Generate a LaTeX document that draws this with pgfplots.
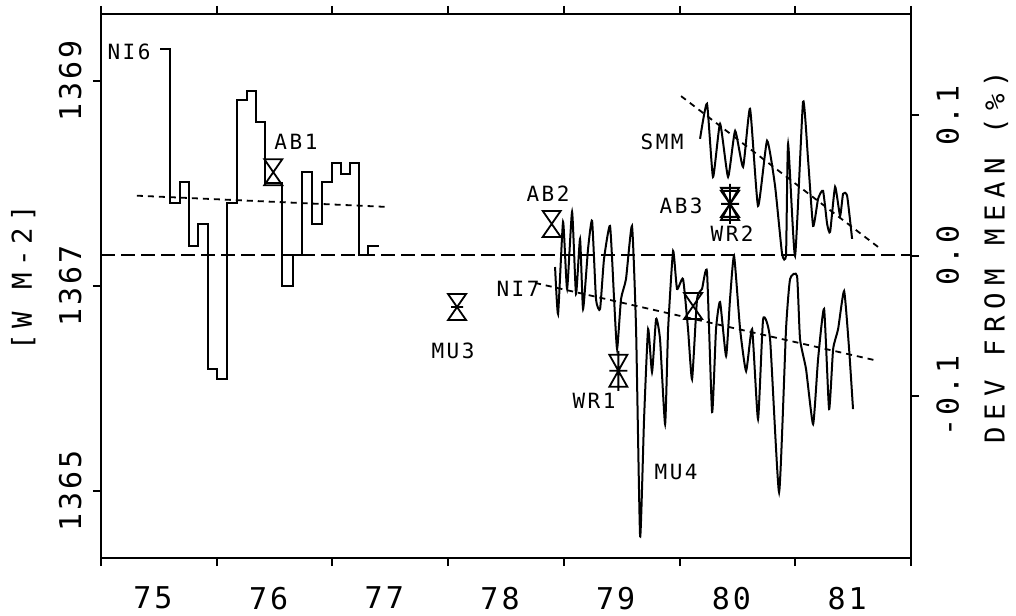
\documentclass[border=0pt]{standalone}
\usepackage{fontspec}
\usepackage{pgfplots}
\pgfplotsset{compat=1.18}
\newfontfamily\tickfont{DejaVu Sans Mono}[LetterSpace=10]
\newfontfamily\labfont{DejaVu Sans Mono}[LetterSpace=12]
\newfontfamily\axfontL{DejaVu Sans Mono}[LetterSpace=22]
\newfontfamily\axfontR{DejaVu Sans Mono}[LetterSpace=26]
\newcommand\TF{\tickfont\fontsize{15}{15}\selectfont}
\newcommand\LF{\labfont\fontsize{10.5}{10.5}\selectfont}

\pgfdeclareplotmark{hg}{%
  \pgfpathmoveto{\pgfqpoint{-4.5pt}{6.5pt}}%
  \pgfpathlineto{\pgfqpoint{4.5pt}{6.5pt}}%
  \pgfpathlineto{\pgfqpoint{-4.5pt}{-6.5pt}}%
  \pgfpathlineto{\pgfqpoint{4.5pt}{-6.5pt}}%
  \pgfpathclose
  \pgfusepathqstroke}
\pgfdeclareplotmark{hgb}{%
  \pgfpathmoveto{\pgfqpoint{-4.5pt}{6.5pt}}%
  \pgfpathlineto{\pgfqpoint{4.5pt}{6.5pt}}%
  \pgfpathlineto{\pgfqpoint{-4.5pt}{-6.5pt}}%
  \pgfpathlineto{\pgfqpoint{4.5pt}{-6.5pt}}%
  \pgfpathclose
  \pgfpathmoveto{\pgfqpoint{-3pt}{0pt}}%
  \pgfpathlineto{\pgfqpoint{3pt}{0pt}}%
  \pgfusepathqstroke}
\pgfdeclareplotmark{hgs}{%
  \pgfpathmoveto{\pgfqpoint{-4.5pt}{8pt}}%
  \pgfpathlineto{\pgfqpoint{4.5pt}{8pt}}%
  \pgfpathlineto{\pgfqpoint{-4.5pt}{-8pt}}%
  \pgfpathlineto{\pgfqpoint{4.5pt}{-8pt}}%
  \pgfpathclose
  \pgfpathmoveto{\pgfqpoint{-4.5pt}{0pt}}%
  \pgfpathlineto{\pgfqpoint{4.5pt}{0pt}}%
  \pgfpathmoveto{\pgfqpoint{0pt}{-10pt}}%
  \pgfpathlineto{\pgfqpoint{0pt}{10pt}}%
  \pgfusepathqstroke}

\begin{document}
\begin{tikzpicture}
\begin{axis}[
  scale only axis, width=405pt, height=272pt,
  xmin=75, xmax=82, ymin=1364.35, ymax=1369.65,
  axis line style={line width=1pt},
  xtick={75.5,76.5,77.5,78.5,79.5,80.5,81.5},
  xticklabels={75,76,77,78,79,80,81},
  minor xtick={75,76,77,78,79,80,81,82},
  ytick={1365,1367,1369}, yticklabels={1365,1367,1369},
  minor ytick={1365,1367,1369},
  ytick pos=left,
  major tick length=0pt, minor tick length=4pt, tick align=outside,
  tick style={line width=1pt, black},
  xticklabel style={font=\TF, anchor=north, inner sep=0pt, xshift=-3pt},
  xticklabel shift=14.3pt,
  yticklabel style={font=\TF, rotate=90, anchor=south, inner sep=0pt},
  yticklabel shift=9.5pt,
  ylabel={[W M-2]},
  ylabel style={font=\axfontL\fontsize{13.7}{13.7}\selectfont, at={(rel axis cs:-0.096,0.515)}, anchor=center},
]
\coordinate (SW) at (rel axis cs:0,0);
% mean line
\addplot[line width=1pt, dash pattern=on 7pt off 3pt] coordinates {(75,1367.305) (82,1367.305)};
% NIMBUS-6
\addplot[const plot, line width=1pt] coordinates {
(75.510,1369.305) (75.596,1367.81) (75.683,1368.01) (75.763,1367.39) (75.841,1367.60)
(75.922,1366.19) (76.000,1366.09) (76.086,1367.81) (76.173,1368.81) (76.259,1368.90)
(76.337,1368.60) (76.417,1368.00) (76.562,1367.00) (76.662,1367.30) (76.735,1368.11)
(76.821,1367.60) (76.908,1368.01) (76.994,1368.20) (77.072,1368.09) (77.152,1368.20)
(77.233,1367.30) (77.310,1367.39) (77.405,1367.39)};
% NIMBUS-7
\addplot[line width=1pt, smooth, tension=0.3] coordinates {
(78.924,1367.185) (78.950,1366.727) (78.993,1367.624) (79.028,1366.971) (79.071,1367.722)
(79.105,1366.922) (79.140,1367.459) (79.166,1366.776) (79.209,1367.361) (79.244,1367.634)
(79.278,1366.873) (79.313,1366.776) (79.347,1367.263) (79.399,1367.585) (79.434,1366.873)
(79.460,1366.385) (79.494,1366.873) (79.537,1367.068) (79.589,1367.585) (79.624,1366.580)
(79.659,1364.561) (79.693,1365.702) (79.728,1366.580) (79.762,1366.161) (79.797,1366.678)
(79.831,1366.483) (79.875,1365.654) (79.901,1366.580) (79.944,1367.341) (79.978,1366.971)
(80.030,1367.068) (80.073,1366.580) (80.108,1366.093) (80.151,1366.873) (80.194,1366.971)
(80.237,1367.137) (80.281,1365.771) (80.315,1366.580) (80.350,1366.844) (80.402,1366.317)
(80.436,1366.873) (80.471,1367.293) (80.523,1366.580) (80.575,1366.171) (80.627,1366.580)
(80.678,1365.702) (80.722,1366.678) (80.782,1366.483) (80.860,1364.990) (80.920,1366.580)
(80.955,1367.068) (81.015,1367.098) (81.041,1366.483) (81.093,1366.190) (81.154,1365.654)
(81.197,1366.288) (81.249,1366.776) (81.292,1365.800) (81.327,1366.385) (81.370,1366.580)
(81.422,1366.951) (81.465,1366.385) (81.499,1365.800)};
% SMM
\addplot[line width=1pt, smooth, tension=0.3] coordinates {
(80.177,1368.434) (80.237,1368.776) (80.289,1368.063) (80.350,1368.581) (80.419,1368.063)
(80.480,1368.512) (80.549,1368.161) (80.609,1368.727) (80.678,1367.780) (80.756,1368.415)
(80.825,1367.976) (80.886,1367.312) (80.920,1367.312) (80.938,1368.385) (80.998,1367.293)
(81.067,1368.795) (81.110,1368.239) (81.154,1367.585) (81.197,1367.849) (81.240,1367.927)
(81.275,1367.605) (81.301,1367.527) (81.344,1367.966) (81.387,1367.683) (81.413,1367.898)
(81.448,1367.878) (81.491,1367.459)};
% regression lines
\addplot[line width=0.9pt, dash pattern=on 3pt off 2.5pt] coordinates {(75.31,1367.88) (77.48,1367.77)};
\addplot[line width=0.9pt, dash pattern=on 3pt off 2.5pt] coordinates {(78.751,1367.03) (81.716,1366.27)};
\addplot[line width=0.9pt, dash pattern=on 3pt off 2.5pt] coordinates {(80.013,1368.85) (81.716,1367.38)};
% rocket / balloon points
\addplot[only marks, mark=hg, mark options={solid, line width=0.9pt}] coordinates {(76.489,1368.109) (78.895,1367.605) (80.117,1366.805) (80.436,1367.800)};
\addplot[only marks, mark=hgb, mark options={solid, line width=0.9pt}] coordinates {(78.077,1366.795)};
\addplot[only marks, mark=hgs, mark options={solid, line width=0.9pt}] coordinates {(79.471,1366.174) (80.436,1367.800)};
% labels
\node[font=\LF] at (75.242,1369.283) {NI6};
\node[font=\LF] at (76.685,1368.405) {AB1};
\node[font=\LF] at (78.863,1367.898) {AB2};
\node[font=\LF] at (78.604,1366.971) {NI7};
\node[font=\LF] at (78.042,1366.366) {MU3};
\node[font=\LF] at (79.261,1365.878) {WR1};
\node[font=\LF] at (79.970,1365.185) {MU4};
\node[font=\LF] at (79.849,1368.405) {SMM};
\node[font=\LF] at (80.013,1367.780) {AB3};
\node[font=\LF] at (80.454,1367.507) {WR2};
\end{axis}
\begin{axis}[
  scale only axis, width=405pt, height=272pt,
  xmin=75, xmax=82, ymin=-0.2152, ymax=0.1720,
  axis x line=none, axis y line*=right,
  axis line style={-, line width=1pt},
  ytick={-0.1,0,0.1}, yticklabels={-0.1,0.0,0.1},
  minor ytick={-0.1,0,0.1},
  major tick length=0pt, minor tick length=4pt, tick align=outside,
  tick style={line width=1pt, black},
  yticklabel style={font=\TF, rotate=90, anchor=north, inner sep=0pt},
  yticklabel shift=12.5pt,
  ylabel={DEV FROM MEAN (\%)},
  ylabel style={font=\axfontR\fontsize{13.7}{13.7}\selectfont, at={(rel axis cs:1.105,0.553)}, anchor=center},
]
\end{axis}
\pgfresetboundingbox
\path[use as bounding box] ([shift={(-50.5pt,-28.5pt)}]SW) rectangle ([shift={(457.5pt,279pt)}]SW);
\end{tikzpicture}
\end{document}
